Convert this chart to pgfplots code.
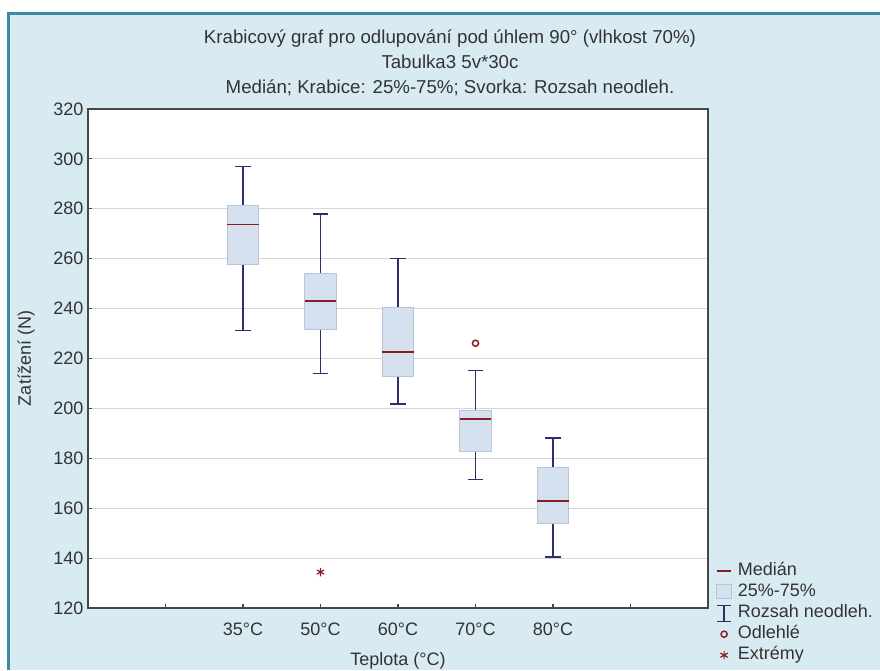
\documentclass[border=0pt]{standalone}
\usepackage{fontspec}
\setmainfont{Liberation Sans}
\usepackage{pgfplots}
\pgfplotsset{compat=1.18}
\usepgfplotslibrary{statistics}
\definecolor{bgblue}{HTML}{D9EBF2}
\definecolor{tealb}{HTML}{3A8BA1}
\definecolor{navy}{HTML}{2E2F6E}
\definecolor{medred}{HTML}{8B1E24}
\definecolor{boxfill}{HTML}{D5E1EE}
\definecolor{boxedge}{HTML}{B5C6DA}
\definecolor{gridgray}{HTML}{D6D6D6}
\definecolor{axisgray}{HTML}{474747}
\definecolor{textgray}{HTML}{333333}
\begin{document}
\begin{tikzpicture}
\useasboundingbox (0,0) rectangle (660pt,502.5pt);
\fill[white] (0,0) rectangle (660pt,502.5pt);
\fill[bgblue] (5.25pt,0) rectangle (660pt,493.5pt);
\draw[tealb, line width=2.2pt] (6.2pt,0) -- (6.2pt,492.4pt) -- (660pt,492.4pt);
\begin{scope}[every node/.style={font=\fontsize{14}{16}\selectfont, text=textgray, anchor=base, inner sep=0pt}]
\node at (337.5pt,469.5pt) {Krabicový graf pro odlupování pod úhlem 90° (vlhkost 70\%)};
\node at (337.5pt,450.75pt) {Tabulka3 5v*30c};
\node at (337.5pt,432pt) {Medián; Krabice: 25\%-75\%; Svorka: Rozsah neodleh.};
\end{scope}
\begin{axis}[
  at={(66pt,46.5pt)}, anchor=south west,
  scale only axis, width=465pt, height=374.25pt,
  xmin=0, xmax=8, ymin=120, ymax=320,
  ytick={120,140,...,320},
  xtick={1,2,3,4,5,6,7},
  xticklabels={,35°C,50°C,60°C,70°C,80°C,},
  ymajorgrids, grid style={gridgray, line width=0.75pt},
  axis line style={axisgray, line width=1pt},
  tick style={axisgray, line width=0.8pt},
  major tick length=3pt,
  tick pos=left,
  /pgf/number format/assume math mode=true,
  ticklabel style={font=\fontsize{13.5}{16}\selectfont, text=textgray},
  xticklabel style={yshift=-8pt},
  axis background/.style={fill=white},
  xlabel={Teplota (°C)},
  ylabel={Zatížení (N)},
  label style={font=\fontsize{13.5}{16}\selectfont, text=textgray},
  xlabel style={at={(axis description cs:0.5,-0.106)}, anchor=center},
  ylabel style={at={(axis description cs:-0.1,0.5)}, anchor=center},
  legend cell align=left,
  legend style={at={(axis description cs:1.013,0.093)}, anchor=north west,
    draw=none, fill=none, inner sep=0pt, row sep=1.75pt, column sep=4.5pt,
    nodes={inner sep=0pt, text height=10.5pt, text depth=3.5pt,
      font=\fontsize{13.5}{16}\selectfont, text=textgray}},
  boxplot/draw direction=y,
  boxplot/every box/.style={draw=boxedge, fill=boxfill, line width=0.75pt},
  boxplot/every whisker/.style={draw=navy, line width=1pt},
  boxplot/every median/.style={draw=medred, line width=1.2pt},
]
\addplot[forget plot, boxplot prepared={draw position=2, lower whisker=231.2, lower quartile=257.5, median=273.7, upper quartile=281.2, upper whisker=296.9, box extend=0.41, whisker extend=0.2}] coordinates {};
\addplot[forget plot, boxplot prepared={draw position=3, lower whisker=214.1, lower quartile=231.6, median=243.1, upper quartile=253.9, upper whisker=277.9, box extend=0.41, whisker extend=0.2}] coordinates {};
\addplot[forget plot, boxplot prepared={draw position=4, lower whisker=201.7, lower quartile=212.9, median=222.5, upper quartile=240.3, upper whisker=260.1, box extend=0.41, whisker extend=0.2}] coordinates {};
\addplot[forget plot, boxplot prepared={draw position=5, lower whisker=171.6, lower quartile=182.8, median=195.7, upper quartile=199.1, upper whisker=215.1, box extend=0.41, whisker extend=0.2}] coordinates {};
\addplot[forget plot, boxplot prepared={draw position=6, lower whisker=140.4, lower quartile=153.9, median=162.9, upper quartile=176.5, upper whisker=188.1, box extend=0.41, whisker extend=0.2}] coordinates {};
\addplot[forget plot, only marks, mark=o, mark size=2.3pt, medred, line width=1.1pt] coordinates {(5,226.1)};
\addplot[forget plot, only marks, mark=asterisk, mark size=3.2pt, medred, line width=0.9pt] coordinates {(3,134.4)};
\addlegendimage{legend image code/.code={\draw[medred,line width=1.1pt] (3.3pt,0pt) -- (13.8pt,0pt);}}
\addlegendentry{Medián}
\addlegendimage{legend image code/.code={\draw[boxedge,fill=boxfill,line width=0.6pt] (3pt,-5pt) rectangle (14pt,5.5pt);}}
\addlegendentry{25\%-75\%}
\addlegendimage{legend image code/.code={\draw[navy,line width=0.9pt] (3.5pt,-6pt) -- (13.5pt,-6pt) (8.5pt,-6pt) -- (8.5pt,6pt) (3.5pt,6pt) -- (13.5pt,6pt);}}
\addlegendentry{Rozsah neodleh.}
\addlegendimage{only marks, mark=o, mark size=2.3pt, medred, line width=1.1pt}
\addlegendentry{Odlehlé}
\addlegendimage{only marks, mark=asterisk, mark size=3.2pt, medred, line width=0.9pt}
\addlegendentry{Extrémy}
\end{axis}
\end{tikzpicture}
\end{document}
